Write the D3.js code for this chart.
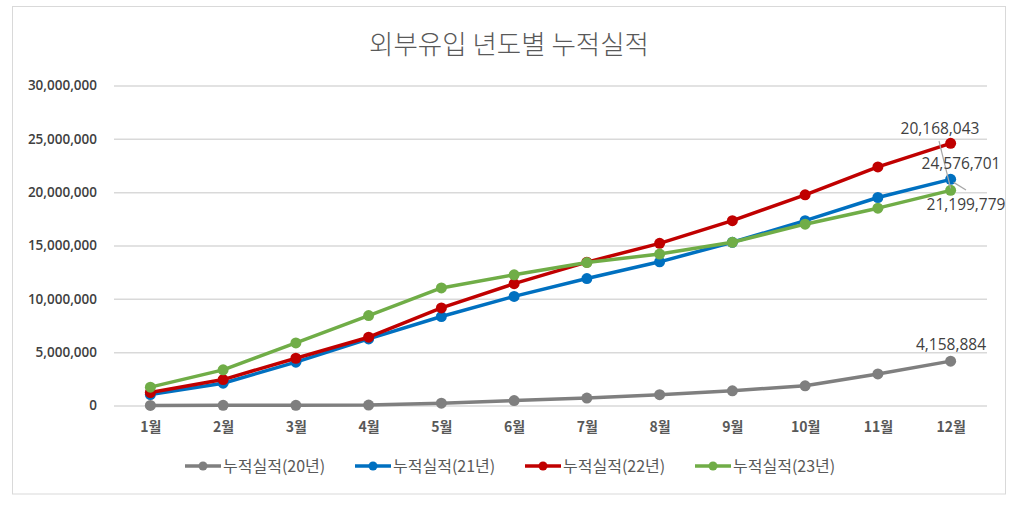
<!DOCTYPE html>
<html><head><meta charset="utf-8">
<script src="https://cdn.jsdelivr.net/npm/d3@7"></script>
<style>
body{margin:0;background:#fff;}
text{font-family:"Noto Sans CJK KR","Noto Sans",sans-serif;}
</style></head><body>
<svg id="c" width="1019" height="506"></svg>
<script>
const months = ["1월","2월","3월","4월","5월","6월","7월","8월","9월","10월","11월","12월"];
const yTicks = [0,5000000,10000000,15000000,20000000,25000000,30000000];
const seriesNames = ["누적실적(20년)","누적실적(21년)","누적실적(22년)","누적실적(23년)"];
const seriesColors = ["#7f7f7f","#0070c0","#c00000","#70ad47"];
const s20 = [10000,15000,20000,40000,220000,460000,700000,1010000,1380000,1850000,2960000,4158884];
const s21 = [1030000,2090000,4060000,6240000,8340000,10230000,11900000,13470000,15300000,17330000,19500000,21199779];
const s22 = [1220000,2430000,4430000,6400000,9150000,11420000,13440000,15200000,17330000,19750000,22370000,24576701];
const s23 = [1720000,3340000,5870000,8430000,11020000,12250000,13400000,14200000,15300000,17000000,18500000,20168043];
const allSeries = [s20,s21,s22,s23];
const title = "외부유입 년도별 누적실적";

const svg = d3.select("#c");
svg.append("rect").attr("x",12.5).attr("y",6.5).attr("width",993).attr("height",487.5)
  .attr("fill","#fff").attr("stroke","#d9d9d9");

svg.append("text").attr("x",509).attr("y",54).attr("text-anchor","middle")
  .attr("font-size",26.5).attr("font-weight",300).attr("fill","#595959").text(title);

const x = d3.scalePoint().domain(months).range([114,987]).padding(0.5);
const y = d3.scaleLinear().domain([0,30000000]).range([405.5,85.5]);

const gy = svg.append("g").attr("transform","translate(114,0)")
  .call(d3.axisLeft(y).tickValues(yTicks).tickSize(-873).tickPadding(17).tickFormat(d3.format(",")));
gy.select(".domain").remove();
gy.selectAll(".tick line").attr("stroke","#d9d9d9").attr("stroke-width",1.5);
gy.selectAll(".tick text").attr("fill","#404040").attr("font-size",13.5).attr("font-weight",600)
  .style("font-family","'Open Sans',sans-serif");

const gx = svg.append("g").attr("transform","translate(0,405.5)")
  .call(d3.axisBottom(x).tickSize(0).tickPadding(17));
gx.select(".domain").remove();
gx.selectAll(".tick text").attr("fill","#595959").attr("font-size",14).attr("font-weight","bold");

const line = d3.line().x((d,i)=>x(months[i])).y(d=>y(d));
allSeries.forEach((s,k)=>{
  const g = svg.append("g");
  g.append("path").datum(s).attr("d",line).attr("fill","none")
    .attr("stroke",seriesColors[k]).attr("stroke-width",3.5).attr("stroke-linejoin","round");
  g.selectAll("circle").data(s).join("circle")
    .attr("cx",(d,i)=>x(months[i])).attr("cy",d=>y(d)).attr("r",5.5).attr("fill",seriesColors[k]);
});

// data labels at 12월
const last = months.length-1;
const lx = x(months[last]);
const labelStyle = sel => sel.attr("font-size",15.5).attr("font-weight",500).attr("fill","#404040").attr("text-anchor","middle")
  .style("font-family","'Open Sans',sans-serif");
// leader lines
svg.append("line").attr("x1",939).attr("y1",141).attr("x2",lx).attr("y2",y(s23[last])-2)
  .attr("stroke","#a6a6a6").attr("stroke-width",1.2);
svg.append("line").attr("x1",lx+3).attr("y1",y(s21[last])+3).attr("x2",966).attr("y2",190)
  .attr("stroke","#a6a6a6").attr("stroke-width",1.2);
svg.append("text").attr("x",940).attr("y",134).call(labelStyle).text(d3.format(",")(s23[last]));
svg.append("text").attr("x",961).attr("y",169).call(labelStyle).text(d3.format(",")(s22[last]));
svg.append("text").attr("x",966).attr("y",210).call(labelStyle).text(d3.format(",")(s21[last]));
svg.append("text").attr("x",951).attr("y",350).call(labelStyle).text(d3.format(",")(s20[last]));

// legend
const legX = [185,355,525,695];
seriesNames.forEach((n,k)=>{
  const g = svg.append("g").attr("transform",`translate(${legX[k]},466)`);
  g.append("line").attr("x1",0).attr("x2",36).attr("y1",0).attr("y2",0)
    .attr("stroke",seriesColors[k]).attr("stroke-width",3.5);
  g.append("circle").attr("cx",18).attr("cy",0).attr("r",4.5).attr("fill",seriesColors[k]);
  g.append("text").attr("x",38).attr("y",6).attr("font-size",16).attr("fill","#595959").text(n);
});
</script>
</body></html>
